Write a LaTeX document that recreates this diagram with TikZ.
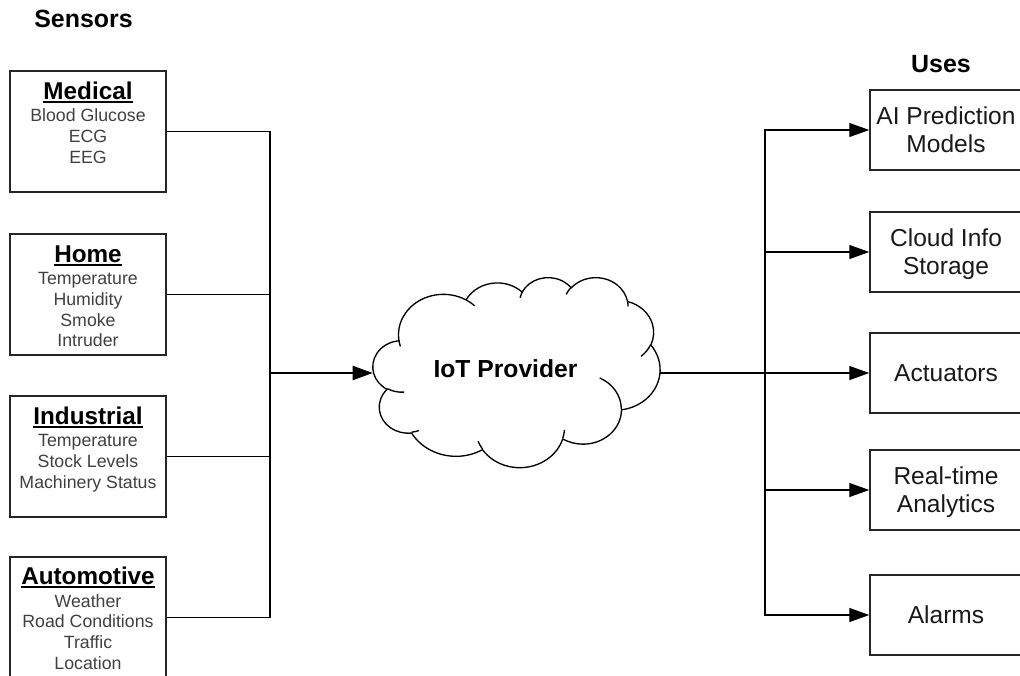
\documentclass[tikz,border=0pt]{standalone}
\usepackage{fontspec}
\setmainfont{Liberation Sans}
\usetikzlibrary{arrows.meta}
\newcommand\myul[1]{\leavevmode\setbox0=\hbox{#1}\rlap{\rule[-2.8pt]{\wd0}{1.4pt}}\box0}
\begin{document}
\begin{tikzpicture}[x=0.75pt,y=-0.75pt,
  sbox/.style={draw=black!85,line width=1.1pt,minimum width=117pt,minimum height=90.75pt,inner sep=0pt},
  ubox/.style={draw=black!85,line width=1.1pt,minimum width=114pt,minimum height=60pt,inner sep=0pt},
  head/.style={font=\fontsize{18.2}{21}\selectfont\bfseries,anchor=base,inner sep=0pt},
  bighead/.style={font=\fontsize{18.7}{21}\selectfont\bfseries,anchor=base,inner sep=0pt},
  itm/.style={font=\fontsize{13.3}{16}\selectfont,text=black!75,anchor=base,inner sep=0pt},
  utext/.style={font=\fontsize{18.4}{21}\selectfont,text=black!90,anchor=base,inner sep=0pt},
  wire/.style={line width=1pt},
  bigwire/.style={line width=1.6pt},
  arr/.style={line width=1pt,-{Triangle[length=15pt,width=10.5pt]}},
  bigarr/.style={line width=1.6pt,-{Triangle[length=15pt,width=10.5pt]}},
  cloudline/.style={line width=1pt,line join=round},
  ]
\useasboundingbox (0,0) rectangle (1020,675);

% headings
\node[bighead] (sens) at (83.5,27) {Sensors};
\node[bighead] (uses) at (941,72) {Uses};

% sensor boxes
\node[sbox] (med) at (88,131.5) {};
\node[head] (medT) at (88,99) {\myul{Medical}};
\foreach \t [count=\i] in {Blood Glucose,ECG,EEG}
  \node[itm] (med\i) at (88,101+20.7*\i) {\t};

\node[sbox] (home) at (88,294.5) {};
\node[head] (homeT) at (88,262) {\myul{Home}};
\foreach \t [count=\i] in {Temperature,Humidity,Smoke,Intruder}
  \node[itm] (home\i) at (88,264+20.7*\i) {\t};

\node[sbox] (ind) at (88,456.5) {};
\node[head] (indT) at (88,424) {\myul{Industrial}};
\foreach \t [count=\i] in {Temperature,Stock Levels,Machinery Status}
  \node[itm] (ind\i) at (88,426+20.7*\i) {\t};

\node[sbox] (auto) at (88,617.5) {};
\node[head] (autoT) at (88,584.5) {\myul{Automotive}};
\foreach \t [count=\i] in {Weather,Road Conditions,Traffic,Location}
  \node[itm] (auto\i) at (88,586.5+20.7*\i) {\t};

% cloud (frame of the shape: x 373..660, y 277..467)
\node[minimum width=215.25pt,minimum height=142.5pt,inner sep=0pt] (cloud) at (516.5,372) {};
\begin{scope}[shift={(373,277)},x=0.49826pt,y=-0.32986pt]
  \draw[cloudline] (39.00,143.70)
    \foreach \wr/\hr/\st/\sw in {
      67.53/91.90/-190.4875/123.7805,
      53.33/72.67/-144.1024/89.9452,
      43.65/59.45/-145.8079/99.7230,
      48.57/65.95/-130.9861/117.2417,
      53.33/72.73/-78.7089/109.0269,
      67.75/92.20/-46.2673/130.2690,
      57.85/78.67/0.6250/114.0333,
      67.52/92.15/22.4516/115.1726,
      77.20/105.43/66.2426/75.7110,
      43.60/59.18/-274.9421/146.7356,
      43.45/59.45/-246.8285/152.5212}
    { arc[start angle={atan2(\wr*sin(\st),\hr*cos(\st))},
          delta angle={mod(atan2(\wr*sin(\st+\sw),\hr*cos(\st+\sw))-atan2(\wr*sin(\st),\hr*cos(\st))-\sw+1260,360)-180+\sw},
          x radius=\wr, y radius=\hr] } -- cycle;
  \foreach \px/\py/\wr/\hr/\st/\sw in {
      46.93/261.77/43.45/59.45/86.7420/26.4295,
      69.28/348.99/43.60/59.18/73.6105/11.4475,
      164.78/390.90/67.52/92.15/137.6241/14.0811,
      288.27/347.51/67.52/92.15/6.4533/15.9984,
      341.29/229.54/57.85/78.67/-70.2924/70.9174,
      417.98/153.54/53.33/72.73/30.3180/27.7515,
      383.24/54.26/48.57/65.95/-13.7443/14.8589,
      290.78/39.52/48.57/65.95/-149.1815/18.1954,
      221.41/47.20/43.65/59.45/-163.4943/17.6864,
      140.00/51.92/67.53/91.90/-66.7070/12.3194,
      41.27/157.89/67.53/91.90/157.6544/11.8582}
    \draw[cloudline] (\px,\py)
      arc[start angle={atan2(\wr*sin(\st),\hr*cos(\st))},
          delta angle={mod(atan2(\wr*sin(\st+\sw),\hr*cos(\st+\sw))-atan2(\wr*sin(\st),\hr*cos(\st))-\sw+1260,360)-180+\sw},
          x radius=\wr, y radius=\hr];
\end{scope}
\node[font=\fontsize{18.5}{21}\selectfont\bfseries,anchor=base,inner sep=0pt] (cloudT) at (505.5,377) {IoT Provider};

% uses boxes
\node[ubox] (ai) at (946,130) {};
\node[utext] (ai1) at (946,124.7) {AI Prediction};
\node[utext] (ai2) at (946,152.5) {Models};
\node[ubox] (cl) at (946,252) {};
\node[utext] (cl1) at (946,246.5) {Cloud Info};
\node[utext] (cl2) at (946,274.5) {Storage};
\node[ubox] (act) at (946,373) {};
\node[utext] (act1) at (946,381.5) {Actuators};
\node[ubox] (rt) at (946,490) {};
\node[utext] (rt1) at (946,484.5) {Real-time};
\node[utext] (rt2) at (946,512.5) {Analytics};
\node[ubox] (al) at (946,615) {};
\node[utext] (al1) at (946,623.5) {Alarms};

% junctions
\coordinate (jl) at (270,373);
\coordinate (jr) at (765,373);

\draw[wire] (med.east) -| (jl);
\draw[wire] (home.east) -| (jl);
\draw[wire] (ind.east) -| (jl);
\draw[wire] (auto.east) -| (jl);
\draw[bigarr] (jl) -- (jl -| cloud.west);
\draw[bigwire] (jr -| cloud.east) -- (jr);
\draw[arr] (jr) |- (ai.west);
\draw[arr] (jr) |- (cl.west);
\draw[arr] (jr) -- (act.west);
\draw[arr] (jr) |- (rt.west);
\draw[arr] (jr) |- (al.west);
\end{tikzpicture}
\end{document}
